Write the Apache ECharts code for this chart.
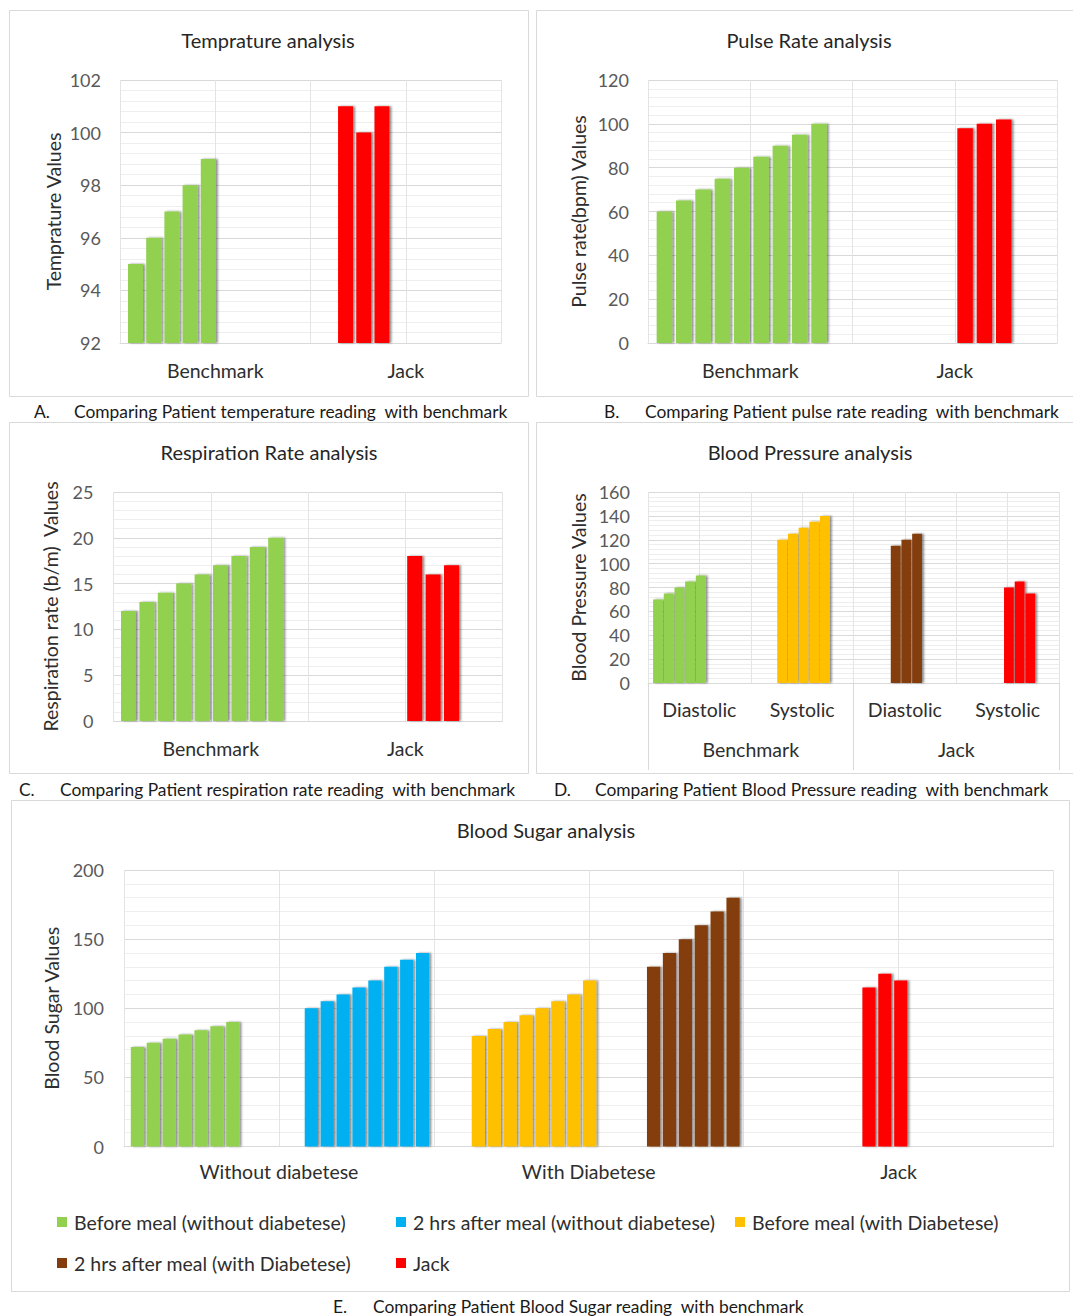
<!DOCTYPE html>
<html>
<head>
<meta charset="utf-8">
<script src="https://cdn.jsdelivr.net/npm/echarts@6/dist/echarts.min.js"></script>
<style>
html,body{margin:0;padding:0;background:#ffffff;}
#chart{width:1073px;height:1316px;}
</style>
</head>
<body>
<div id="chart"></div>
<script>
// ================= DATA =================
// A. Temperature
const tempCategories = ['Benchmark', 'Jack'];
const tempTicks = [92, 94, 96, 98, 100, 102];
const tempBenchmark = [95, 96, 97, 98, 99];
const tempJack = [101, 100, 101];

// B. Pulse rate
const pulseCategories = ['Benchmark', 'Jack'];
const pulseTicks = [0, 20, 40, 60, 80, 100, 120];
const pulseBenchmark = [60, 65, 70, 75, 80, 85, 90, 95, 100];
const pulseJack = [98, 100, 102];

// C. Respiration rate
const respCategories = ['Benchmark', 'Jack'];
const respTicks = [0, 5, 10, 15, 20, 25];
const respBenchmark = [12, 13, 14, 15, 16, 17, 18, 19, 20];
const respJack = [18, 16, 17];

// D. Blood pressure
const bpCategories = ['Diastolic', 'Systolic', 'Diastolic', 'Systolic'];
const bpGroups = ['Benchmark', 'Jack'];
const bpTicks = [0, 20, 40, 60, 80, 100, 120, 140, 160];
const bpBenchDiastolic = [70, 75, 80, 85, 90];
const bpBenchSystolic = [120, 125, 130, 135, 140];
const bpJackDiastolic = [115, 120, 125];
const bpJackSystolic = [80, 85, 75];

// E. Blood sugar
const sugarCategories = ['Without diabetese', 'With Diabetese', 'Jack'];
const sugarTicks = [0, 50, 100, 150, 200];
const sugarSeriesNames = ['Before meal (without diabetese)', '2 hrs after meal (without diabetese)',
  'Before meal (with Diabetese)', '2 hrs after meal (with Diabetese)', 'Jack'];
const sugarBeforeNoDiab = [72, 75, 78, 81, 84, 87, 90];
const sugarAfterNoDiab = [100, 105, 110, 115, 120, 130, 135, 140];
const sugarBeforeDiab = [80, 85, 90, 95, 100, 105, 110, 120];
const sugarAfterDiab = [130, 140, 150, 160, 170, 180];
const sugarJack = [115, 125, 120];

// ================= STYLE / LAYOUT =================
const FONT = 'Lato, "Open Sans", sans-serif';
const GREEN = '#92d050', BLUE = '#00b0f0', YELLOW = '#ffc000', BROWN = '#843c0c', RED = '#ff0000';
const MAJOR = '#d9d9d9', VLINE = '#e4e4e4', MINOR = '#eeeeee';
const BORDER = '#d9d9d9';
const LABEL_COLOR = '#2e2e2e', TICK_COLOR = '#595959', TITLE_COLOR = '#262626', CAPTION_COLOR = '#1a1a1a';

const option = {
  backgroundColor: '#ffffff',
  animation: false,
  grid: [], xAxis: [], yAxis: [], series: [], legend: [], graphic: []
};

function addPanel(p) {
  const gi = option.grid.length;
  option.grid.push(Object.assign({ containLabel: false, outerBoundsMode: 'none' }, p.grid));
  option.xAxis.push({
    type: 'category', gridIndex: gi, data: p.categories, position: 'bottom', boundaryGap: true,
    axisLine: { show: true, lineStyle: { color: MAJOR, width: 1 } },
    axisTick: { show: false }, splitLine: { show: false },
    axisLabel: { margin: p.labelMargin, fontFamily: FONT, fontSize: 19.5, color: LABEL_COLOR, interval: 0 }
  });
  if (p.groupAxis) {
    option.xAxis.push({
      type: 'category', gridIndex: gi, data: p.groupAxis, position: 'bottom', boundaryGap: true,
      axisLine: { show: false },
      axisTick: { show: true, interval: 0, length: p.groupTickLen, lineStyle: { color: MAJOR } },
      splitLine: { show: false },
      axisLabel: { margin: p.groupMargin, fontFamily: FONT, fontSize: 19.5, color: LABEL_COLOR, interval: 0 }
    });
  }
  const valIdx = option.xAxis.length;
  option.xAxis.push({
    type: 'value', gridIndex: gi, min: 0, max: p.categories.length, interval: 0.5, position: 'bottom',
    axisLine: { show: false }, axisTick: { show: false }, axisLabel: { show: false },
    splitLine: { show: true, lineStyle: { color: VLINE, width: 1 } }
  });
  const ticks = p.ticks;
  option.yAxis.push({
    type: 'value', gridIndex: gi, min: ticks[0], max: ticks[ticks.length - 1], interval: ticks[1] - ticks[0],
    name: p.yName, nameLocation: 'middle', nameGap: p.nameGap, nameRotate: 90,
    nameTextStyle: { fontFamily: FONT, fontSize: 19.5, color: LABEL_COLOR },
    axisLine: { show: false }, axisTick: { show: false },
    axisLabel: { margin: p.tickMargin, fontFamily: FONT, fontSize: 18, color: TICK_COLOR },
    splitLine: { show: true, lineStyle: { color: MAJOR, width: 1 } },
    minorTick: { show: false, splitNumber: 5 },
    minorSplitLine: { show: true, lineStyle: { color: MINOR, width: 1 } }
  });
  p.groups.forEach(function (g) {
    option.series.push({
      type: 'bar', name: g.name, xAxisIndex: valIdx, yAxisIndex: gi,
      barWidth: p.barWidth, barGap: '-100%', clip: true,
      itemStyle: { color: g.color, shadowColor: 'rgba(0,0,0,0.45)', shadowBlur: 2, shadowOffsetX: 2, shadowOffsetY: 0 },
      data: g.values.map(function (v, i) { return [g.start + i * p.pitch, v]; })
    });
  });
}

// A
addPanel({
  grid: { left: 120, top: 80, width: 381, height: 263 },
  categories: tempCategories, ticks: tempTicks, yName: 'Temprature Values', nameGap: 57,
  labelMargin: 17, tickMargin: 19, barWidth: 15, pitch: 0.0955,
  groups: [
    { name: 'Benchmark', values: tempBenchmark, color: GREEN, start: 0.0814 },
    { name: 'Jack', values: tempJack, color: RED, start: 1.184 }
  ]
});
// B
addPanel({
  grid: { left: 648, top: 80, width: 409, height: 263 },
  categories: pulseCategories, ticks: pulseTicks, yName: 'Pulse rate(bpm) Values', nameGap: 60,
  labelMargin: 17, tickMargin: 19, barWidth: 15.5, pitch: 0.0945,
  groups: [
    { name: 'Benchmark', values: pulseBenchmark, color: GREEN, start: 0.0803 },
    { name: 'Jack', values: pulseJack, color: RED, start: 1.5505 }
  ]
});
// C
addPanel({
  grid: { left: 113.5, top: 492, width: 389, height: 229 },
  categories: respCategories, ticks: respTicks, yName: 'Respiration rate (b/m)  Values', nameGap: 53,
  labelMargin: 17, tickMargin: 20, barWidth: 15, pitch: 0.0946,
  groups: [
    { name: 'Benchmark', values: respBenchmark, color: GREEN, start: 0.0771 },
    { name: 'Jack', values: respJack, color: RED, start: 1.5486 }
  ]
});
// D
addPanel({
  grid: { left: 648, top: 492, width: 411, height: 191 },
  categories: bpCategories, groupAxis: bpGroups, groupTickLen: 87, groupMargin: 56,
  ticks: bpTicks, yName: 'Blood Pressure Values', nameGap: 60,
  labelMargin: 16, tickMargin: 18, barWidth: 9.8, pitch: 0.104,
  groups: [
    { name: 'Benchmark Diastolic', values: bpBenchDiastolic, color: GREEN, start: 0.0973 },
    { name: 'Benchmark Systolic', values: bpBenchSystolic, color: YELLOW, start: 1.3054 },
    { name: 'Jack Diastolic', values: bpJackDiastolic, color: BROWN, start: 2.4105 },
    { name: 'Jack Systolic', values: bpJackSystolic, color: RED, start: 3.5126 }
  ]
});
// E
addPanel({
  grid: { left: 124, top: 870, width: 929.5, height: 276.5 },
  categories: sugarCategories, ticks: sugarTicks, yName: 'Blood Sugar Values', nameGap: 58,
  labelMargin: 15, tickMargin: 20, barWidth: 13.2, pitch: 0.0513,
  groups: [
    { name: sugarSeriesNames[0], values: sugarBeforeNoDiab, color: GREEN, start: 0.0433 },
    { name: sugarSeriesNames[1], values: sugarAfterNoDiab, color: BLUE, start: 0.6046 },
    { name: sugarSeriesNames[2], values: sugarBeforeDiab, color: YELLOW, start: 1.1436 },
    { name: sugarSeriesNames[3], values: sugarAfterDiab, color: BROWN, start: 1.7092 },
    { name: sugarSeriesNames[4], values: sugarJack, color: RED, start: 2.4044 }
  ]
});

// Legend for E, laid out in Excel-like columns
const legendPos = [[57, 1212], [396, 1212], [735, 1212], [57, 1253], [396, 1253]];
sugarSeriesNames.forEach(function (n, i) {
  option.legend.push({
    data: [n], left: legendPos[i][0], top: legendPos[i][1], orient: 'horizontal',
    icon: 'rect', itemWidth: 10, itemHeight: 10, itemGap: 0, padding: 0, selectedMode: false,
    textStyle: { fontFamily: FONT, fontSize: 19.5, color: LABEL_COLOR, padding: [0, 0, 0, 2] }
  });
});

// Panel borders
[[9.5, 10.5, 519, 386], [536.5, 10.5, 560, 386], [9.5, 422.5, 519, 351], [536.5, 422.5, 560, 351], [11.5, 800.5, 1058, 491]]
  .forEach(function (r) {
    option.graphic.push({ type: 'rect', silent: true, z: -10, shape: { x: r[0], y: r[1], width: r[2], height: r[3] },
      style: { fill: 'none', stroke: BORDER, lineWidth: 1 } });
  });

function addText(str, x, y, size, color, align) {
  option.graphic.push({ type: 'text', silent: true, x: x, y: y,
    style: { text: str, fill: color, font: size + 'px ' + FONT, textAlign: align || 'center', align: align || 'center',
      textVerticalAlign: 'middle', verticalAlign: 'middle' } });
}
// Chart titles
addText('Temprature analysis', 268, 40, 20, TITLE_COLOR);
addText('Pulse Rate analysis', 809, 40, 20, TITLE_COLOR);
addText('Respiration Rate analysis', 269, 452, 20, TITLE_COLOR);
addText('Blood Pressure analysis', 810, 452, 20, TITLE_COLOR);
addText('Blood Sugar analysis', 546, 830, 20, TITLE_COLOR);
// Captions
addText('A.', 34, 411, 17.4, CAPTION_COLOR, 'left');
addText('Comparing Patient temperature reading  with benchmark', 74, 411, 17.4, CAPTION_COLOR, 'left');
addText('B.', 604, 411, 17.4, CAPTION_COLOR, 'left');
addText('Comparing Patient pulse rate reading  with benchmark', 645, 411, 17.4, CAPTION_COLOR, 'left');
addText('C.', 19, 789, 17.4, CAPTION_COLOR, 'left');
addText('Comparing Patient respiration rate reading  with benchmark', 60, 789, 17.4, CAPTION_COLOR, 'left');
addText('D.', 554, 789, 17.4, CAPTION_COLOR, 'left');
addText('Comparing Patient Blood Pressure reading  with benchmark', 595, 789, 17.4, CAPTION_COLOR, 'left');
addText('E.', 333, 1306, 17.4, CAPTION_COLOR, 'left');
addText('Comparing Patient Blood Sugar reading  with benchmark', 373, 1306, 17.4, CAPTION_COLOR, 'left');

const chart = echarts.init(document.getElementById('chart'), null, { renderer: 'svg', width: 1073, height: 1316 });
chart.setOption(option);
</script>
</body>
</html>
